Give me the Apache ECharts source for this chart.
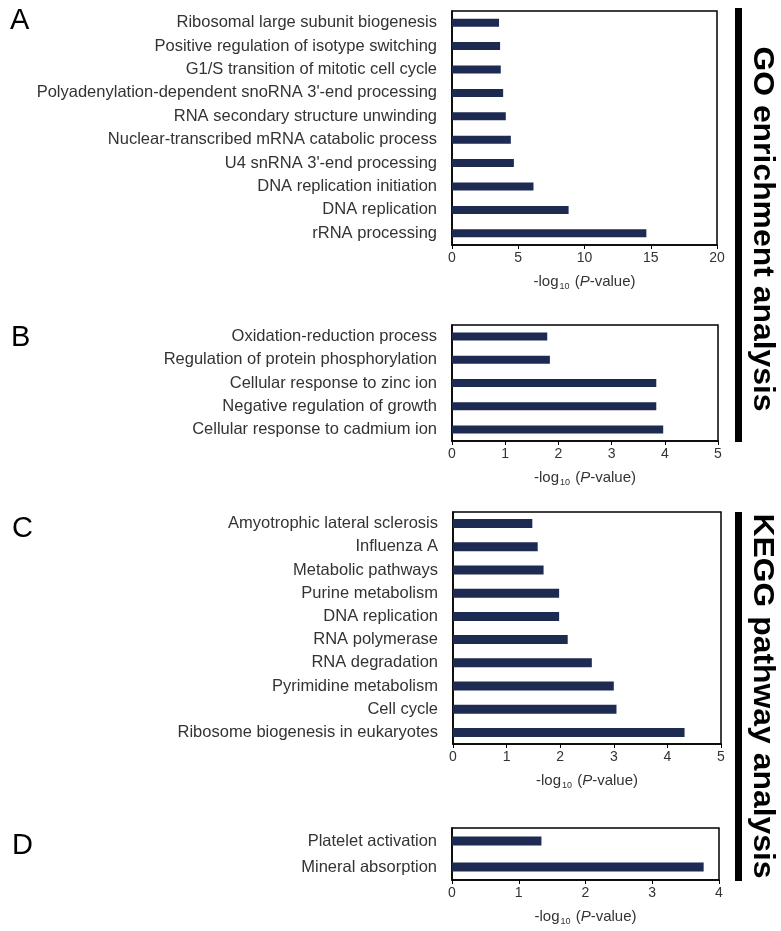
<!DOCTYPE html>
<html>
<head>
<meta charset="utf-8">
<script src="https://cdn.jsdelivr.net/npm/echarts@6/dist/echarts.min.js"></script>
<style>
  html, body { margin: 0; padding: 0; background: #fff; }
  #chart { width: 781px; height: 931px; }
</style>
</head>
<body>
<div id="chart"></div>
<script>
// Panel A: GO biological process terms (listed top to bottom)
const goTermsA = [
  'Ribosomal large subunit biogenesis',
  'Positive regulation of isotype switching',
  'G1/S transition of mitotic cell cycle',
  "Polyadenylation-dependent snoRNA 3'-end processing",
  'RNA secondary structure unwinding',
  'Nuclear-transcribed mRNA catabolic process',
  "U4 snRNA 3'-end processing",
  'DNA replication initiation',
  'DNA replication',
  'rRNA processing'
];
const goValuesA = [3.55, 3.63, 3.68, 3.86, 4.06, 4.44, 4.67, 6.15, 8.8, 14.67];

// Panel B: GO terms
const goTermsB = [
  'Oxidation-reduction process',
  'Regulation of protein phosphorylation',
  'Cellular response to zinc ion',
  'Negative regulation of growth',
  'Cellular response to cadmium ion'
];
const goValuesB = [1.79, 1.84, 3.84, 3.84, 3.97];

// Panel C: KEGG pathways
const keggTermsC = [
  'Amyotrophic lateral sclerosis',
  'Influenza A',
  'Metabolic pathways',
  'Purine metabolism',
  'DNA replication',
  'RNA polymerase',
  'RNA degradation',
  'Pyrimidine metabolism',
  'Cell cycle',
  'Ribosome biogenesis in eukaryotes'
];
const keggValuesC = [1.48, 1.58, 1.69, 1.98, 1.98, 2.14, 2.59, 3.0, 3.05, 4.32];

// Panel D: KEGG pathways
const keggTermsD = ['Platelet activation', 'Mineral absorption'];
const keggValuesD = [1.34, 3.77];

// x-axis ranges per panel
const xMax = [20, 5, 5, 4];
const xStep = [5, 1, 1, 1];

const panelLetters = ['A', 'B', 'C', 'D'];
const sideTitles = ['GO enrichment analysis', 'KEGG pathway analysis'];

const FONT = '"Liberation Sans", Arial, sans-serif';
const BAR = '#1d2a52';
const TXT = '#333';

const grids = [
  { left: 452, right: 64, top: 11, height: 234 },
  { left: 452, right: 63, top: 325, height: 116 },
  { left: 453, right: 60, top: 512, height: 232 },
  { left: 452, right: 62, top: 828, height: 52 }
].map(g => Object.assign({
  show: true, borderColor: '#000', borderWidth: 1.5, backgroundColor: 'transparent'
}, g));

const panels = [
  [goTermsA, goValuesA, 8],
  [goTermsB, goValuesB, 8],
  [keggTermsC, keggValuesC, 9],
  [keggTermsD, keggValuesD, 9]
];

const xAxes = panels.map((p, i) => ({
  type: 'value', gridIndex: i, min: 0, max: xMax[i], interval: xStep[i],
  splitLine: { show: false },
  axisLine: { show: true, lineStyle: { color: '#000', width: 1.5 } },
  axisTick: { show: true, length: 4, lineStyle: { color: '#000' } },
  axisLabel: { color: TXT, fontFamily: FONT, fontSize: 14, margin: 6 },
  name: '{n|-log}{s|10}{n| (}{i|P}{n|-value)}',
  nameLocation: 'middle', nameGap: 28,
  nameTextStyle: {
    color: TXT, fontFamily: FONT, fontSize: 15,
    rich: {
      n: { fontFamily: FONT, fontSize: 15, color: TXT, lineHeight: 18 },
      i: { fontFamily: FONT, fontSize: 15, color: TXT, fontStyle: 'italic', lineHeight: 18 },
      s: { fontFamily: FONT, fontSize: 9, color: TXT, lineHeight: 18, verticalAlign: 'bottom', padding: [6, 1, 0, 1] }
    }
  }
}));

const yAxes = panels.map((p, i) => ({
  type: 'category', gridIndex: i, data: p[0], inverse: true,
  axisLine: { show: true, lineStyle: { color: '#000', width: 1.5 } },
  axisTick: { show: false },
  axisLabel: { color: TXT, fontFamily: FONT, fontSize: 16.5, margin: 15 }
}));

const series = panels.map((p, i) => ({
  type: 'bar', xAxisIndex: i, yAxisIndex: i, data: p[1],
  barWidth: p[2], itemStyle: { color: BAR }, silent: true
}));

const letterPos = [[10, 6], [11, 323], [12, 514], [12, 831]];
const graphics = panelLetters.map((t, i) => ({
  type: 'text', x: letterPos[i][0], y: letterPos[i][1],
  style: { text: t, font: '29px ' + FONT, fill: '#000' }
}));

// Side brackets with rotated section titles
const sideBars = [[8, 442], [512, 881]];
const titleCenters = [229, 696];
sideBars.forEach((b, i) => {
  graphics.push({
    type: 'rect', shape: { x: 735, y: b[0], width: 7, height: b[1] - b[0] },
    style: { fill: '#000' }
  });
  graphics.push({
    type: 'text', x: 762, y: titleCenters[i], rotation: -Math.PI / 2, scaleX: 1.1,
    style: {
      text: sideTitles[i], font: 'bold 29px ' + FONT, fill: '#000',
      align: 'center', verticalAlign: 'middle'
    }
  });
});

const chart = echarts.init(document.getElementById('chart'), null, { renderer: 'canvas' });
chart.setOption({
  animation: false,
  backgroundColor: '#fff',
  grid: grids,
  xAxis: xAxes,
  yAxis: yAxes,
  series: series,
  graphic: graphics
});
</script>
</body>
</html>
